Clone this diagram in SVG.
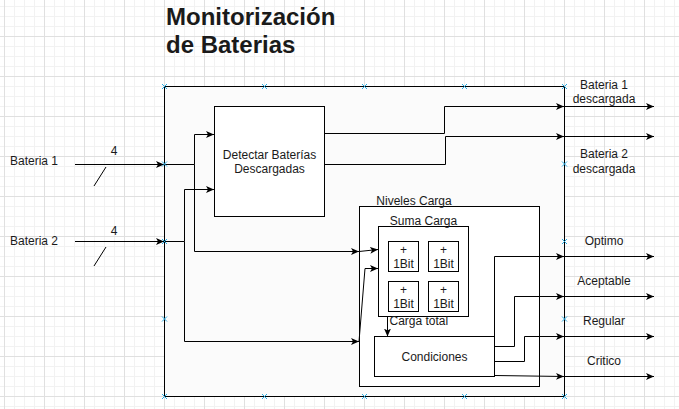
<svg xmlns="http://www.w3.org/2000/svg" xmlns:xlink="http://www.w3.org/1999/xlink" width="679" height="409" viewBox="0 0 679 409">
  <style>
    .box { fill: #ffffff; stroke: #000000; stroke-width: 1; }
    .main { fill: #fbfbfb; stroke: #000000; stroke-width: 1; }
    .lbl { font-family: "Liberation Sans", Arial, sans-serif; font-size: 12px; fill: #1a1a1a; }
    .mid { text-anchor: middle; }
    .title { font-family: "Liberation Sans", Arial, sans-serif; font-size: 24px; font-weight: bold; fill: #1a1a1a; }
    .wire { fill: none; stroke: #000000; stroke-width: 1; }
    .arr { marker-end: url(#arrow); }
    .cp { fill: none; stroke: #29abe2; stroke-width: 1; }
  </style>
  <defs>
    <pattern id="grid" x="4" y="36" width="40" height="40" patternUnits="userSpaceOnUse">
      <path d="M10.5,0 V40 M20.5,0 V40 M30.5,0 V40 M0,10.5 H40 M0,20.5 H40 M0,30.5 H40" stroke="#f2f2f2" stroke-width="1" fill="none"/>
      <path d="M0.5,0 V40 M0,0.5 H40" stroke="#e0e0e0" stroke-width="1" fill="none"/>
    </pattern>
    <marker id="arrow" viewBox="0 0 10 8" refX="8" refY="4" markerWidth="10" markerHeight="8" markerUnits="userSpaceOnUse" orient="auto">
      <path d="M0,0.5 L8,4 L0,7.5 L2,4 Z" fill="#000000"/>
    </marker>
    <path id="xm" d="M-2.5,-2.5 L2.5,2.5 M-2.5,2.5 L2.5,-2.5"/>
  </defs>

  <rect width="679" height="409" fill="#ffffff"/>
  <rect width="679" height="409" fill="url(#grid)"/>

  <g id="title">
    <text class="title" x="166" y="25">Monitorización</text>
    <text class="title" x="166" y="53">de Baterias</text>
  </g>

  <g id="sistema">
    <rect class="main" x="164.5" y="86.5" width="400" height="310"/>
  </g>

  <g id="detectar">
    <rect class="box" x="214.5" y="106.5" width="110" height="110"/>
    <text class="lbl mid" x="269.5" y="158.5">Detectar Baterías</text>
    <text class="lbl mid" x="269.5" y="173">Descargadas</text>
  </g>

  <g id="niveles-carga">
    <rect class="box" x="359.5" y="206.5" width="180" height="180"/>
    <text class="lbl mid" x="414" y="205">Niveles Carga</text>
  </g>

  <g id="suma-carga">
    <rect class="box" x="378.5" y="226.5" width="90" height="90"/>
    <text class="lbl mid" x="423.5" y="225">Suma Carga</text>
  </g>

  <g id="bit1">
    <rect class="box" x="388.5" y="241.5" width="30" height="30"/>
    <text class="lbl mid" x="403.5" y="254">+</text>
    <text class="lbl mid" x="403.5" y="268">1Bit</text>
  </g>
  <g id="bit2">
    <rect class="box" x="428.5" y="241.5" width="30" height="30"/>
    <text class="lbl mid" x="443.5" y="254">+</text>
    <text class="lbl mid" x="443.5" y="268">1Bit</text>
  </g>
  <g id="bit3">
    <rect class="box" x="388.5" y="281.5" width="30" height="30"/>
    <text class="lbl mid" x="403.5" y="294">+</text>
    <text class="lbl mid" x="403.5" y="308">1Bit</text>
  </g>
  <g id="bit4">
    <rect class="box" x="428.5" y="281.5" width="30" height="30"/>
    <text class="lbl mid" x="443.5" y="294">+</text>
    <text class="lbl mid" x="443.5" y="308">1Bit</text>
  </g>

  <g id="condiciones">
    <rect class="box" x="374.5" y="336.5" width="120" height="40"/>
    <text class="lbl mid" x="434.5" y="360.5">Condiciones</text>
  </g>

  <g id="connectors">
    <path class="wire arr" d="M75,164.5 H164"/>
    <path class="wire arr" d="M75,241.5 H164"/>
    <path class="wire" d="M94,186 L106,167"/>
    <path class="wire" d="M94,266 L106,247"/>
    <path class="wire arr" d="M164,164.5 H194.5 V134.5 H214"/>
    <path class="wire arr" d="M194.5,164.5 V251.5 H359"/>
    <path class="wire arr" d="M359,251.5 L378,249.5"/>
    <path class="wire arr" d="M164,241.5 H184.5 V189.5 H214"/>
    <path class="wire arr" d="M184.5,241.5 V341.5 H359"/>
    <path class="wire arr" d="M359,341.5 L365,268.5 H378"/>
    <path class="wire arr" d="M324,133.5 H444.5 V106.5 H564"/>
    <path class="wire arr" d="M324,164.5 H445.5 V136.5 H564"/>
    <path class="wire arr" d="M564,106.5 H654"/>
    <path class="wire arr" d="M564,136.5 H654"/>
    <path class="wire arr" d="M387.5,316.5 V336.5"/>
    <path class="wire arr" d="M494.5,336.5 V256.5 H564"/>
    <path class="wire arr" d="M564,256.5 H654"/>
    <path class="wire arr" d="M494.5,346.5 H514.5 V296.5 H564"/>
    <path class="wire arr" d="M564,296.5 H654"/>
    <path class="wire arr" d="M494.5,361.5 H524.5 V336.5 H564"/>
    <path class="wire arr" d="M564,336.5 H654"/>
    <path class="wire arr" d="M494.5,375.5 L564,376.5"/>
    <path class="wire arr" d="M564,376.5 H654"/>
  </g>

  <g id="labels">
    <text class="lbl mid" x="34" y="164.5">Bateria 1</text>
    <text class="lbl mid" x="34" y="245">Bateria 2</text>
    <text class="lbl mid" x="114" y="155">4</text>
    <text class="lbl mid" x="114" y="235">4</text>
    <text class="lbl" x="389.5" y="325">Carga total</text>
    <text class="lbl mid" x="604" y="88.5">Bateria 1</text>
    <text class="lbl mid" x="604" y="103">descargada</text>
    <text class="lbl mid" x="604" y="158">Bateria 2</text>
    <text class="lbl mid" x="604" y="172.5">descargada</text>
    <text class="lbl mid" x="604" y="245">Optimo</text>
    <text class="lbl mid" x="604" y="285">Aceptable</text>
    <text class="lbl mid" x="604" y="325">Regular</text>
    <text class="lbl mid" x="604" y="365">Critico</text>
  </g>

  <g id="connection-points" class="cp">
    <use xlink:href="#xm" x="164.5" y="86.5"/>
    <use xlink:href="#xm" x="264.5" y="86.5"/>
    <use xlink:href="#xm" x="364.5" y="86.5"/>
    <use xlink:href="#xm" x="464.5" y="86.5"/>
    <use xlink:href="#xm" x="564.5" y="86.5"/>
    <use xlink:href="#xm" x="564.5" y="164"/>
    <use xlink:href="#xm" x="564.5" y="241.5"/>
    <use xlink:href="#xm" x="564.5" y="319"/>
    <use xlink:href="#xm" x="564.5" y="396.5"/>
    <use xlink:href="#xm" x="464.5" y="396.5"/>
    <use xlink:href="#xm" x="364.5" y="396.5"/>
    <use xlink:href="#xm" x="264.5" y="396.5"/>
    <use xlink:href="#xm" x="164.5" y="396.5"/>
    <use xlink:href="#xm" x="164.5" y="319"/>
    <use xlink:href="#xm" x="164.5" y="241.5"/>
    <use xlink:href="#xm" x="164.5" y="164"/>
  </g>
</svg>
